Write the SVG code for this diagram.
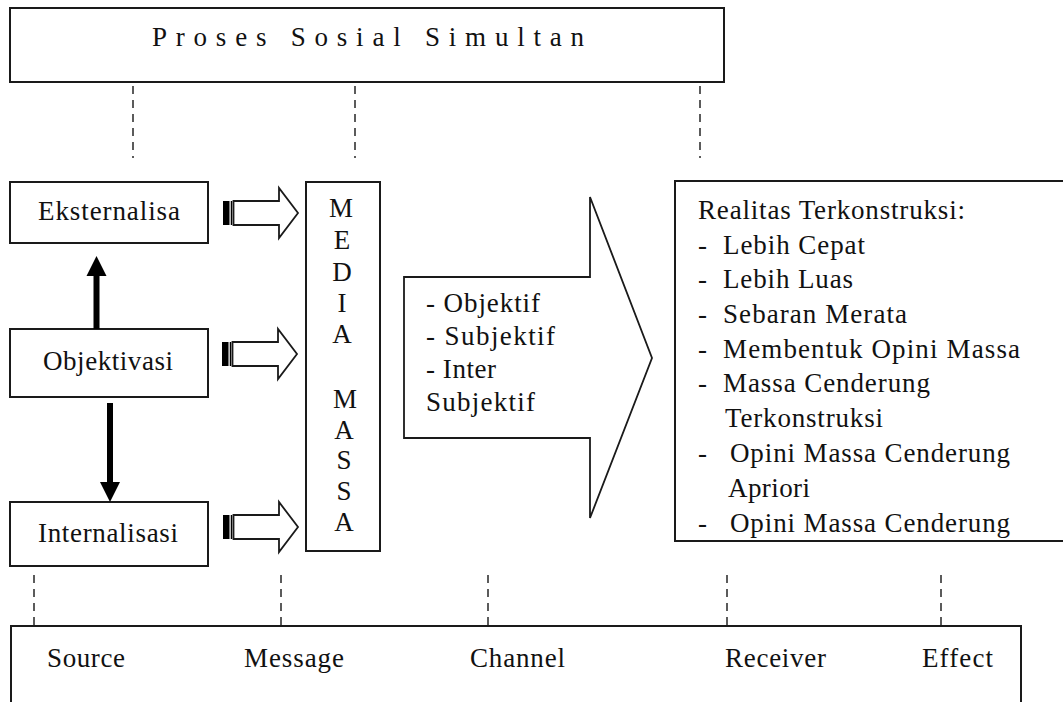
<svg xmlns="http://www.w3.org/2000/svg" width="1063" height="702" viewBox="0 0 1063 702" font-family="Liberation Serif, Times New Roman, serif">
<style>
.box{fill:#fff;stroke:#1a1a1a;stroke-width:2}
.t{font-family:'Liberation Serif','Times New Roman',serif;font-size:27px;fill:#111}
.dash{stroke:#333;stroke-width:1.6;stroke-dasharray:8,6;fill:none}
.blk{fill:#fff;stroke:#1a1a1a;stroke-width:1.8;stroke-linejoin:miter}
.solid{fill:#000;stroke:none}
</style>
<defs>
<clipPath id="clipR"><rect x="676" y="182" width="400" height="356"/></clipPath>
<g id="blockArrow">
<rect x="223" y="-12" width="6.5" height="24" fill="#000"/>
<line x1="231.5" y1="-12" x2="231.5" y2="12" stroke="#000" stroke-width="1.5"/>
<polygon class="blk" points="233.5,-12 279,-12 279,-25 298,0 279,25 279,12 233.5,12"/>
</g>
</defs>

<g id="proses-sosial">
<rect class="box" x="10" y="8" width="714" height="74"/>
<text class="t" x="152" y="46" textLength="432" lengthAdjust="spacing">Proses Sosial Simultan</text>
</g>

<g id="eksternalisa">
<rect class="box" x="10" y="182" width="198" height="61"/>
<text class="t" x="38" y="220" textLength="142" lengthAdjust="spacing">Eksternalisa</text>
</g>
<g id="objektivasi">
<rect class="box" x="10" y="329" width="198" height="68"/>
<text class="t" x="43" y="370" textLength="130" lengthAdjust="spacing">Objektivasi</text>
</g>
<g id="internalisasi">
<rect class="box" x="10" y="502" width="198" height="64"/>
<text class="t" x="38" y="542" textLength="140" lengthAdjust="spacing">Internalisasi</text>
</g>

<g id="media-massa">
<rect class="box" x="306" y="182" width="74" height="369"/>
<g class="t" text-anchor="middle">
<text x="341" y="217">M</text>
<text x="342" y="249">E</text>
<text x="342" y="281">D</text>
<text x="342" y="312">I</text>
<text x="342" y="343">A</text>
<text x="345" y="408">M</text>
<text x="344" y="439">A</text>
<text x="344" y="469">S</text>
<text x="344" y="500">S</text>
<text x="344" y="531">A</text>
</g>
</g>

<g id="channel-arrow">
<polygon class="blk" points="404,277 590,277 590,197 652,358 590,518 590,438 404,438"/>
<text class="t" x="426" y="312" textLength="114" lengthAdjust="spacing">- Objektif</text>
<text class="t" x="426" y="345" textLength="129" lengthAdjust="spacing">- Subjektif</text>
<text class="t" x="426" y="378" textLength="70" lengthAdjust="spacing">- Inter</text>
<text class="t" x="426" y="411" textLength="109" lengthAdjust="spacing">Subjektif</text>
</g>

<g id="realitas">
<rect class="box" x="675" y="181" width="400" height="360"/>
<g clip-path="url(#clipR)">
<text class="t" x="698" y="219" textLength="267" lengthAdjust="spacing">Realitas Terkonstruksi:</text>
<text class="t" x="698" y="254">-</text><text class="t" x="723" y="254" textLength="142" lengthAdjust="spacing">Lebih Cepat</text>
<text class="t" x="698" y="288">-</text><text class="t" x="723" y="288" textLength="130" lengthAdjust="spacing">Lebih Luas</text>
<text class="t" x="698" y="323">-</text><text class="t" x="723" y="323" textLength="184" lengthAdjust="spacing">Sebaran Merata</text>
<text class="t" x="698" y="358">-</text><text class="t" x="723" y="358" textLength="297" lengthAdjust="spacing">Membentuk Opini Massa</text>
<text class="t" x="698" y="392">-</text><text class="t" x="723" y="392" textLength="207" lengthAdjust="spacing">Massa Cenderung</text>
<text class="t" x="725" y="427" textLength="158" lengthAdjust="spacing">Terkonstruksi</text>
<text class="t" x="698" y="462">-</text><text class="t" x="730" y="462" textLength="280" lengthAdjust="spacing">Opini Massa Cenderung</text>
<text class="t" x="728" y="497" textLength="82" lengthAdjust="spacing">Apriori</text>
<text class="t" x="698" y="532">-</text><text class="t" x="730" y="532" textLength="280" lengthAdjust="spacing">Opini Massa Cenderung</text>
</g>
</g>

<g id="komunikasi">
<rect class="box" x="11" y="626" width="1010" height="90"/>
<text class="t" x="47" y="667" textLength="78" lengthAdjust="spacing">Source</text>
<text class="t" x="244" y="667" textLength="100" lengthAdjust="spacing">Message</text>
<text class="t" x="470" y="667" textLength="95" lengthAdjust="spacing">Channel</text>
<text class="t" x="725" y="667" textLength="101" lengthAdjust="spacing">Receiver</text>
<text class="t" x="922" y="667" textLength="71" lengthAdjust="spacing">Effect</text>
</g>

<g id="connectors">
<line class="dash" x1="133" y1="86" x2="133" y2="158"/>
<line class="dash" x1="355" y1="86" x2="355" y2="158"/>
<line class="dash" x1="700" y1="86" x2="700" y2="158"/>
<line class="dash" x1="34" y1="575" x2="34" y2="626"/>
<line class="dash" x1="281" y1="575" x2="281" y2="626"/>
<line class="dash" x1="488" y1="575" x2="488" y2="626"/>
<line class="dash" x1="727" y1="575" x2="727" y2="626"/>
<line class="dash" x1="941" y1="575" x2="941" y2="626"/>
<rect class="solid" x="93.5" y="275" width="6" height="54"/>
<polygon class="solid" points="86.5,276 106.5,276 96.5,256"/>
<rect class="solid" x="107" y="403" width="6" height="80"/>
<polygon class="solid" points="100,482 120,482 110,502"/>
<use href="#blockArrow" transform="translate(0,213)"/>
<use href="#blockArrow" transform="translate(-1,354)"/>
<use href="#blockArrow" transform="translate(0,527)"/>
</g>
</svg>
